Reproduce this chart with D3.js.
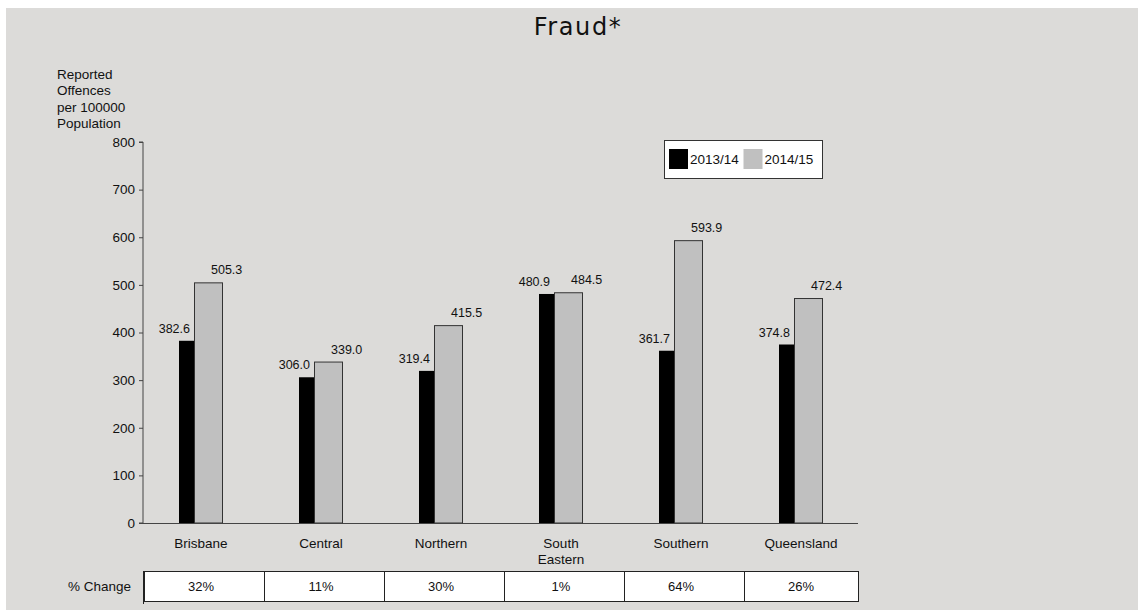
<!DOCTYPE html>
<html>
  <head>
    <meta charset="utf-8" />
    <title>Fraud</title>
    <script src="https://d3js.org/d3.v7.min.js"></script>
    <style>
      body { margin: 0; background: #fff; }
      text { font-family: "Liberation Sans", Arial, sans-serif; fill: #111; }
    </style>
  </head>
  <body>
    <svg id="chart" width="1138" height="610"></svg>
    <script>
        var regions = ["Brisbane", "Central", "Northern", "South Eastern", "Southern", "Queensland"];
        var years = ["2013/14", "2014/15"];
        var values1314 = [382.6, 306.0, 319.4, 480.9, 361.7, 374.8];
        var values1415 = [505.3, 339.0, 415.5, 484.5, 593.9, 472.4];
        var pctChange = ["32%", "11%", "30%", "1%", "64%", "26%"];
        var yTicks = [0, 100, 200, 300, 400, 500, 600, 700, 800];

        var svg = d3.select("#chart");

        // grey panel
        svg.append("rect")
          .attr("x", 6).attr("y", 8)
          .attr("width", 1132).attr("height", 602)
          .attr("fill", "#dcdbd9");

        svg.append("text")
          .attr("x", 578).attr("y", 35)
          .attr("text-anchor", "middle")
          .style("font-family", "'DejaVu Sans', sans-serif")
          .style("font-size", "24px")
          .style("letter-spacing", "1.6px")
          .text("Fraud*");

        var x = d3.scaleBand().domain(regions).range([143, 863]);
        var y = d3.scaleLinear().domain([0, 800]).range([523, 142]);

        // y axis
        var yAxis = svg.append("g")
          .attr("transform", "translate(143,0)")
          .call(d3.axisLeft(y).tickValues(yTicks).tickSize(4).tickPadding(4).tickFormat(d3.format("d")));
        yAxis.select(".domain").attr("stroke", "#444").attr("d", "M-4,142H0V523H-4");
        yAxis.selectAll(".tick line").attr("stroke", "#444");
        yAxis.selectAll(".tick text")
          .style("font-family", "'Liberation Sans', Arial, sans-serif")
          .style("font-size", "13.5px").attr("fill", "#111");

        // axis title
        svg.append("text")
          .attr("x", 57).attr("y", 79)
          .style("font-size", "13.5px")
          .selectAll("tspan")
          .data(["Reported", "Offences", "per 100000", "Population"])
          .enter().append("tspan")
          .attr("x", 57)
          .attr("dy", function(d, i) { return i === 0 ? 0 : 16.3; })
          .text(function(d) { return d; });

        // bars
        var bars = svg.append("g");
        bars.selectAll("rect.b1")
          .data(values1314)
          .enter().append("rect")
          .attr("x", function(d, i) { return x(regions[i]) + 36; })
          .attr("y", function(d) { return y(d); })
          .attr("width", 15)
          .attr("height", function(d) { return y(0) - y(d); })
          .attr("fill", "#000");

        bars.selectAll("rect.b2")
          .data(values1415)
          .enter().append("rect")
          .attr("x", function(d, i) { return x(regions[i]) + 51.5; })
          .attr("y", function(d) { return y(d) + 0.5; })
          .attr("width", 28)
          .attr("height", function(d) { return y(0) - y(d) - 0.5; })
          .attr("fill", "#c0c0c0")
          .attr("stroke", "#333")
          .attr("stroke-width", 1);

        // x axis line
        svg.append("line")
          .attr("x1", 143).attr("x2", 858)
          .attr("y1", 523.5).attr("y2", 523.5)
          .attr("stroke", "#444");

        // value labels
        svg.selectAll("text.v1")
          .data(values1314)
          .enter().append("text")
          .attr("x", function(d, i) { return x(regions[i]) + 47; })
          .attr("y", function(d) { return y(d) - 8; })
          .attr("text-anchor", "end")
          .style("font-size", "12.5px")
          .text(function(d) { return d.toFixed(1); });

        svg.selectAll("text.v2")
          .data(values1415)
          .enter().append("text")
          .attr("x", function(d, i) { return x(regions[i]) + 68; })
          .attr("y", function(d) { return y(d) - 8; })
          .attr("text-anchor", "start")
          .style("font-size", "12.5px")
          .text(function(d) { return d.toFixed(1); });

        // category labels
        var cats = svg.selectAll("text.cat")
          .data(regions)
          .enter().append("text")
          .attr("text-anchor", "middle")
          .attr("y", 548)
          .style("font-size", "13.5px");
        cats.each(function(d) {
          var words = d === "South Eastern" ? ["South", "Eastern"] : [d];
          var t = d3.select(this);
          words.forEach(function(w, i) {
            t.append("tspan")
              .attr("x", x(d) + 58)
              .attr("dy", i === 0 ? 0 : 16)
              .text(w);
          });
        });

        // % change table
        svg.append("text")
          .attr("x", 131).attr("y", 591)
          .attr("text-anchor", "end")
          .style("font-size", "13.5px")
          .text("% Change");

        var cells = svg.append("g");
        cells.selectAll("rect")
          .data(regions)
          .enter().append("rect")
          .attr("x", function(d) { return x(d) + 1.5; })
          .attr("y", 571.5)
          .attr("width", function(d) { return Math.min(x(d) + 121, 858) - x(d) - 1; })
          .attr("height", 30)
          .attr("fill", "#fff")
          .attr("stroke", "#222")
          .attr("stroke-width", 1);

        svg.append("line")
          .attr("x1", 143.5).attr("x2", 143.5)
          .attr("y1", 571).attr("y2", 604)
          .attr("stroke", "#222");

        svg.selectAll("text.pct")
          .data(pctChange)
          .enter().append("text")
          .attr("x", function(d, i) { return x(regions[i]) + 58; })
          .attr("y", 591)
          .attr("text-anchor", "middle")
          .style("font-size", "13px")
          .text(function(d) { return d; });

        // legend
        var legend = svg.append("g");
        legend.append("rect")
          .attr("x", 664.5).attr("y", 140.5)
          .attr("width", 158).attr("height", 38)
          .attr("fill", "#fff").attr("stroke", "#333");
        var legendColors = ["#000", "#c0c0c0"];
        var lg = legend.selectAll("g.item")
          .data(years)
          .enter().append("g")
          .attr("transform", function(d, i) { return "translate(" + (669 + i * 74.5) + ",149)"; });
        lg.append("rect")
          .attr("width", 19).attr("height", 20)
          .attr("fill", function(d, i) { return legendColors[i]; });
        lg.append("text")
          .attr("x", 21).attr("y", 15)
          .style("font-size", "13.5px")
          .text(function(d) { return d; });
    </script>
  </body>
</html>
